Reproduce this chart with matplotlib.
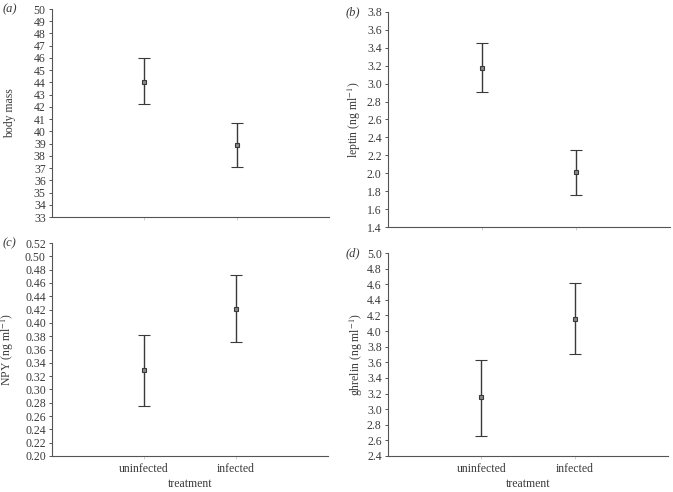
import matplotlib
matplotlib.use('Agg')
from matplotlib import pyplot as plt

# Data: means with lower / upper error bar ends.
groups = ['uninfected', 'infected']

mass_mean = [44.05, 38.9]
mass_low = [42.2, 37.1]
mass_high = [46.0, 40.65]

leptin_mean = [3.18, 2.01]
leptin_low = [2.91, 1.76]
leptin_high = [3.45, 2.26]

npy_mean = [0.329, 0.421]
npy_low = [0.275, 0.371]
npy_high = [0.382, 0.472]

ghrelin_mean = [3.15, 4.15]
ghrelin_low = [2.66, 3.71]
ghrelin_high = [3.63, 4.61]

plt.rcParams['font.family'] = ['Liberation Serif', 'DejaVu Serif']
plt.rcParams['mathtext.fontset'] = 'stix'
plt.rcParams['font.size'] = 8
ink = '#3a3a3a'

W, H = 673, 492
fig = plt.figure(figsize=(W / 100, H / 100), dpi=100)


def panel(box, mean, low, high, ylim, step, ylabel, label_dx, tag, fmt, xlabels):
    x0, y0, x1, y1 = box  # pixel box: left, top, right, bottom
    ax = fig.add_axes([x0 / W, (H - y1) / H, (x1 - x0) / W, (y1 - y0) / H])
    xs = [1, 2]
    err = [[m - l for m, l in zip(mean, low)], [h - m for m, h in zip(mean, high)]]
    ax.errorbar(xs, mean, yerr=err, fmt='s', ms=2.5, mfc='#888888', mec=ink,
                mew=0.8, ecolor=ink, elinewidth=1.0, capsize=4, capthick=1.0)
    ax.set_xlim(0, 3)
    ax.set_ylim(*ylim)
    n = int(round((ylim[1] - ylim[0]) / step))
    ticks = [ylim[0] + i * step for i in range(n + 1)]
    ax.set_yticks(ticks)
    ax.set_yticklabels([fmt.format(t) for t in ticks])
    ax.set_xticks(xs)
    if xlabels:
        ax.set_xticklabels(groups, fontsize=8.5)
        ax.set_xlabel('treatment', fontsize=8.5, color=ink)
        ax.xaxis.set_label_coords(0.5, -22 / (y1 - y0), transform=ax.transAxes)
    else:
        ax.set_xticklabels(['', ''])
    for s in ['top', 'right']:
        ax.spines[s].set_visible(False)
    for s in ['left', 'bottom']:
        ax.spines[s].set_color('#555555')
        ax.spines[s].set_linewidth(0.8)
    ax.tick_params(axis='y', direction='out', length=2.5, width=0.7,
                   colors='#555555', labelcolor=ink, labelsize=8.5, pad=2)
    ax.tick_params(axis='x', direction='out', length=2, width=0.5,
                   colors='#bbbbbb', labelcolor=ink, pad=3)
    ax.set_ylabel(ylabel, fontsize=8.5, color=ink)
    ax.yaxis.set_label_coords(label_dx / (x1 - x0), 0.5)
    ax.text(-0.18 if tag in '(a)(c)' else -0.15, 1.0, tag, transform=ax.transAxes,
            fontsize=9, style='italic', color=ink, va='center', ha='left')
    return ax


panel((52, 9, 329, 217), mass_mean, mass_low, mass_high, (33, 50), 1,
      'body mass', -36, '(a)', '{:.0f}', False)
panel((388, 12, 670, 227), leptin_mean, leptin_low, leptin_high, (1.4, 3.8), 0.2,
      'leptin (ng ml$^{-1}$)', -25, '(b)', '{:.1f}', False)
panel((52, 243, 328, 456), npy_mean, npy_low, npy_high, (0.20, 0.52), 0.02,
      'NPY (ng ml$^{-1}$)', -36, '(c)', '{:.2f}', True)
panel((388, 253, 668, 456), ghrelin_mean, ghrelin_low, ghrelin_high, (2.4, 5.0), 0.2,
      'ghrelin (ng ml$^{-1}$)', -23, '(d)', '{:.1f}', True)

fig.savefig('out.png', dpi=100)
